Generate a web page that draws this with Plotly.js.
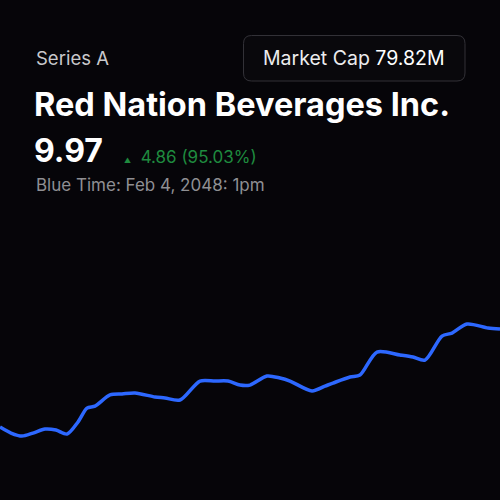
<!DOCTYPE html>
<html>
<head>
<meta charset="utf-8">
<script src="https://cdn.plot.ly/plotly-3.0.1.min.js"></script>
<style>
html,body{margin:0;padding:0;background:#060509;}
#chart{width:500px;height:500px;}
</style>
</head>
<body>
<div id="chart"></div>
<script>
// Time steps (hours since start of the session)
const timeSteps = [0, 11, 22, 33, 45, 56, 67, 78, 87, 95, 110, 122, 135, 155, 165, 180, 200, 215, 228, 240, 250, 267, 280, 290, 312, 325, 333, 350, 360, 377, 400, 413, 425, 442, 452, 467, 488, 500];
// Price series
const prices = [5.11, 4.81, 4.66, 4.81, 5.01, 4.96, 4.76, 5.36, 6.05, 6.15, 6.70, 6.75, 6.80, 6.60, 6.55, 6.45, 7.39, 7.39, 7.39, 7.19, 7.19, 7.64, 7.54, 7.39, 6.90, 7.14, 7.29, 7.59, 7.69, 8.83, 8.68, 8.58, 8.43, 9.62, 9.77, 10.22, 10.02, 9.97];

const seriesName = "Series A";
const company = "Red Nation Beverages Inc.";
const lastPrice = "9.97";
const change = "4.86 (95.03%)";
const marketCapLabel = "Market Cap";
const marketCapValue = "79.82M";
const timeLabel = "Blue Time: Feb 4, 2048: 1pm";

const bg = "#060509";
const font = "Inter, 'Noto Sans', sans-serif";

const trace = {
  x: timeSteps,
  y: prices,
  type: "scatter",
  mode: "lines",
  line: {color: "#2d68ff", width: 3.5, shape: "spline", smoothing: 0.8},
  hoverinfo: "skip"
};

function px(p) { return p / 500; }
function py(p) { return 1 - p / 500; }

// rounded rectangle path in paper coords (pixel inputs)
function roundRect(x0, y0, x1, y1, r) {
  const P = (x, y) => px(x).toFixed(4) + "," + py(y).toFixed(4);
  return "M" + P(x0 + r, y0) + " L" + P(x1 - r, y0) + " Q" + P(x1, y0) + " " + P(x1, y0 + r) +
    " L" + P(x1, y1 - r) + " Q" + P(x1, y1) + " " + P(x1 - r, y1) +
    " L" + P(x0 + r, y1) + " Q" + P(x0, y1) + " " + P(x0, y1 - r) +
    " L" + P(x0, y0 + r) + " Q" + P(x0, y0) + " " + P(x0 + r, y0) + " Z";
}

const layout = {
  width: 500, height: 500,
  paper_bgcolor: bg, plot_bgcolor: bg,
  margin: {l: 0, r: 0, t: 0, b: 0},
  showlegend: false,
  xaxis: {range: [0, 500], visible: false, fixedrange: true},
  yaxis: {range: [1.49, 16.37], visible: false, fixedrange: true, domain: [0, 0.6]},
  shapes: [{
    type: "path", xref: "paper", yref: "paper",
    path: roundRect(243.5, 35.5, 465, 81, 8),
    line: {color: "#323137", width: 1}, fillcolor: "#09080c", layer: "below"
  }],
  annotations: [
    {text: seriesName, xref: "paper", yref: "paper", x: 34/500, y: py(58), xanchor: "left", yanchor: "middle", showarrow: false, font: {family: font, size: 18.5, color: "#c9c9cc"}},
    {text: marketCapLabel + " <span style='color:#ffffff'>" + marketCapValue + "</span>", xref: "paper", yref: "paper", x: 354/500, y: py(58), xanchor: "center", yanchor: "middle", showarrow: false, font: {family: font, size: 19.5, color: "#ececee"}},
    {text: "<b>" + company + "</b>", xref: "paper", yref: "paper", x: 32/500, y: py(105), xanchor: "left", yanchor: "middle", showarrow: false, font: {family: font, size: 32.5, color: "#ffffff"}},
    {text: "<b>" + lastPrice + "</b>", xref: "paper", yref: "paper", x: 32/500, y: py(150), xanchor: "left", yanchor: "middle", showarrow: false, font: {family: font, size: 32, color: "#ffffff"}},
    {text: "<span style='font-size:7px'>▲</span>  " + change, xref: "paper", yref: "paper", x: 122/500, y: py(157), xanchor: "left", yanchor: "middle", showarrow: false, font: {family: font, size: 17, color: "#1f8b3f"}},
    {text: timeLabel, xref: "paper", yref: "paper", x: 34/500, y: py(185), xanchor: "left", yanchor: "middle", showarrow: false, font: {family: font, size: 17, color: "#8f8f93"}}
  ]
};

Plotly.newPlot("chart", [trace], layout, {displayModeBar: false, staticPlot: true});
</script>
</body>
</html>
